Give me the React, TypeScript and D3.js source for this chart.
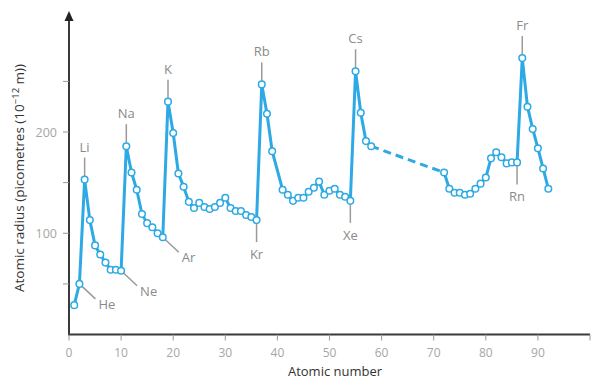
import { useEffect, useRef } from 'react'
import * as d3 from 'd3'

// atomic number / radius (pm). Zr (40) has no point in the source.
const zSolid = [
  1, 2, 3, 4, 5, 6, 7, 8, 9, 10,
  11, 12, 13, 14, 15, 16, 17, 18,
  19, 20, 21, 22, 23, 24, 25, 26, 27, 28, 29, 30, 31, 32, 33, 34, 35, 36,
  37, 38, 39, 41, 42, 43, 44, 45, 46, 47, 48, 49, 50, 51, 52, 53, 54,
  55, 56, 57, 58,
]
const rSolid = [
  29, 50, 153, 113, 88, 79, 71, 64, 64, 63,
  186, 160, 143, 119, 110, 106, 100, 96,
  230, 199, 159, 146, 131, 125, 130, 126, 124, 126, 130, 135, 125, 122, 122, 118, 116, 113,
  247, 218, 181, 143, 138, 132, 135, 135, 141, 145, 151, 138, 142, 144, 138, 136, 132,
  260, 219, 191, 186,
]
// lanthanides skipped -> dashed between 58 and 72
const zLate = [72, 73, 74, 75, 76, 77, 78, 79, 80, 81, 82, 83, 84, 85, 86, 87, 88, 89, 90, 91, 92]
const rLate = [160, 144, 140, 140, 138, 139, 144, 149, 155, 174, 180, 175, 169, 170, 170, 273, 225, 203, 184, 164, 144]

const labelSymbols = ['He', 'Ne', 'Ar', 'Li', 'Na', 'K', 'Rb', 'Cs', 'Fr', 'Kr', 'Xe', 'Rn']
const labelZ = [2, 10, 18, 3, 11, 19, 37, 55, 87, 36, 54, 86]

const xTicks = [0, 10, 20, 30, 40, 50, 60, 70, 80, 90, 100]
const yTicks = [50, 100, 150, 200, 250]
const yTickLabels = [100, 200]

const BLUE = '#2da9e5'
const FONT = '"Open Sans", sans-serif'

type Pt = { z: number; r: number }

export default function App() {
  const svgRef = useRef<SVGSVGElement | null>(null)

  useEffect(() => {
    const W = 593
    const H = 380
    const svg = d3.select(svgRef.current)
    svg.selectAll('*').remove()
    svg.attr('width', W).attr('height', H)

    const x = d3.scaleLinear().domain([0, 100]).range([69, 590])
    const y = d3.scaleLinear().domain([0, 200]).range([334.5, 132])

    const solid: Pt[] = zSolid.map((z, i) => ({ z, r: rSolid[i] }))
    const late: Pt[] = zLate.map((z, i) => ({ z, r: rLate[i] }))
    const all = solid.concat(late)
    const byZ = new Map(all.map((d) => [d.z, d]))

    // axes
    const axisColor = '#3a3a3a'
    svg.append('line')
      .attr('x1', x(0)).attr('x2', x(100))
      .attr('y1', y(0)).attr('y2', y(0))
      .attr('stroke', axisColor).attr('stroke-width', 2)
    svg.append('line')
      .attr('x1', x(0)).attr('x2', x(0))
      .attr('y1', y(0) + 1).attr('y2', 19)
      .attr('stroke', axisColor).attr('stroke-width', 2)
    svg.append('path')
      .attr('d', `M${x(0)},11 L${x(0) + 4.5},21 L${x(0) - 4.5},21 Z`)
      .attr('fill', '#222')

    svg.selectAll('.xtick')
      .data(xTicks)
      .join('line')
      .attr('x1', (d) => x(d)).attr('x2', (d) => x(d))
      .attr('y1', y(0)).attr('y2', y(0) + 6)
      .attr('stroke', '#999').attr('stroke-width', 1)
    svg.selectAll('.xlab')
      .data(xTicks.filter((d) => d < 100))
      .join('text')
      .attr('x', (d) => x(d)).attr('y', 357)
      .attr('text-anchor', 'middle')
      .attr('fill', '#a6a6a6').attr('font-size', 12).attr('font-family', FONT)
      .text((d) => d)

    svg.selectAll('.ytick')
      .data(yTicks)
      .join('line')
      .attr('x1', x(0) - 6).attr('x2', x(0))
      .attr('y1', (d) => y(d)).attr('y2', (d) => y(d))
      .attr('stroke', '#999').attr('stroke-width', 1)
    svg.selectAll('.ylab')
      .data(yTickLabels)
      .join('text')
      .attr('x', x(0) - 12).attr('y', (d) => y(d) + 4.5)
      .attr('text-anchor', 'end')
      .attr('fill', '#a6a6a6').attr('font-size', 12.5).attr('font-family', FONT)
      .text((d) => d)

    svg.append('text')
      .attr('x', 335).attr('y', 376)
      .attr('text-anchor', 'middle')
      .attr('fill', '#333').attr('font-size', 13).attr('font-family', FONT)
      .text('Atomic number')

    const yt = svg.append('text')
      .attr('transform', `translate(24,178) rotate(-90)`)
      .attr('text-anchor', 'middle')
      .attr('fill', '#333').attr('font-size', 13.5).attr('font-family', FONT)
    yt.append('tspan').text('Atomic radius (picometres (10')
    yt.append('tspan').attr('dy', -5).attr('font-size', 9.5).text('\u221212')
    yt.append('tspan').attr('dy', 5).text(' m))')

    // leaders + labels
    const placement: Record<string, 'up' | 'down' | 'diag'> = {
      He: 'diag', Ne: 'diag', Ar: 'diag',
      Li: 'up', Na: 'up', K: 'up', Rb: 'up', Cs: 'up', Fr: 'up',
      Kr: 'down', Xe: 'down', Rn: 'down',
    }
    const labelColor = '#8a8a8a'
    labelSymbols.forEach((sym, i) => {
      const d = byZ.get(labelZ[i])
      if (!d) return
      const px = x(d.z)
      const py = y(d.r)
      const kind = placement[sym]
      let lx = px, ly = py, tx = px, ty = py, anchor = 'middle'
      if (kind === 'up') { ly = py - 22; ty = py - 28 }
      else if (kind === 'down') { ly = py + 22; ty = py + 39 }
      else { lx = px + 16; ly = py + 15; tx = px + 19; ty = py + 25; anchor = 'start' }
      svg.append('line')
        .attr('x1', px).attr('y1', py).attr('x2', lx).attr('y2', ly)
        .attr('stroke', '#9a9a9a').attr('stroke-width', 1.5)
      svg.append('text')
        .attr('x', tx).attr('y', ty)
        .attr('text-anchor', anchor)
        .attr('fill', labelColor).attr('font-size', 13).attr('font-family', FONT)
        .text(sym)
    })

    // series
    const line = d3.line<Pt>().x((d) => x(d.z)).y((d) => y(d.r))
    svg.append('path')
      .datum(solid)
      .attr('fill', 'none').attr('stroke', BLUE).attr('stroke-width', 3)
      .attr('stroke-linejoin', 'round')
      .attr('d', line)
    svg.append('path')
      .datum([solid[solid.length - 1], late[0]])
      .attr('fill', 'none').attr('stroke', BLUE).attr('stroke-width', 3)
      .attr('stroke-dasharray', '8,5')
      .attr('d', line)
    svg.append('path')
      .datum(late)
      .attr('fill', 'none').attr('stroke', BLUE).attr('stroke-width', 3)
      .attr('stroke-linejoin', 'round')
      .attr('d', line)

    svg.selectAll('.dot')
      .data(all)
      .join('circle')
      .attr('cx', (d) => x(d.z))
      .attr('cy', (d) => y(d.r))
      .attr('r', 3.3)
      .attr('fill', '#fff')
      .attr('stroke', BLUE)
      .attr('stroke-width', 1.5)
  }, [])

  return (
    <div style={{ position: 'absolute', left: 0, top: 0 }}>
      <svg ref={svgRef} />
    </div>
  )
}
